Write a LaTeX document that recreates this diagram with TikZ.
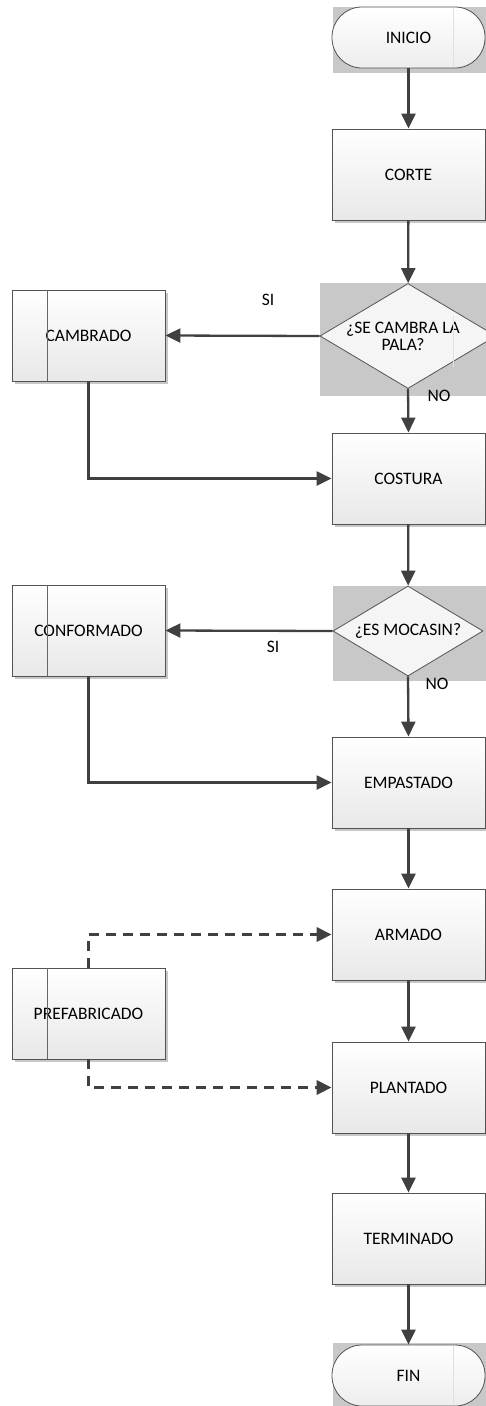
\documentclass[tikz,border=0pt]{standalone}
\usepackage{fontspec}
\setmainfont{Carlito}
\usetikzlibrary{shapes.geometric,arrows.meta,shadows}
\newcommand\lbl{\fontsize{17.5}{19}\selectfont}
\definecolor{edge}{HTML}{404040}
\definecolor{bggray}{HTML}{C8C8C8}
\tikzset{
  boxbase/.style={draw=edge!90, line width=0.8pt, top color=white, bottom color=black!9,
    minimum width=153pt, minimum height=91pt, inner sep=0pt, font=\lbl,
    drop shadow={shadow xshift=3pt, shadow yshift=-3pt, fill=black!22, opacity=1}},
  proc/.style={boxbase},
  subproc/.style={boxbase},
  term/.style={draw=edge!90, line width=0.8pt, top color=white, bottom color=black!7,
    rounded corners=30pt, minimum width=153pt, minimum height=61pt, inner sep=0pt, font=\lbl},
  dec/.style={diamond, draw=edge!90, line width=0.8pt, fill=white!96!black, inner sep=0pt,
    font=\lbl, align=center},
  flow/.style={draw=edge, line width=2.3pt, -{Triangle[length=15pt,width=14pt]}},
  dflow/.style={draw=edge, line width=3.6pt, dash pattern=on 10pt off 7pt,
    -{Triangle[length=15pt,width=14pt]}},
  lab/.style={font=\lbl, inner sep=0pt},
  faint/.style={draw=black!12, line width=0.5pt}
}
\begin{document}
\begin{tikzpicture}[x=1pt,y=-1pt]
\useasboundingbox (0,0) rectangle (486,1406);
% gray backgrounds
\fill[bggray] (333,7) rectangle (486,73);
\fill[bggray] (320,283) rectangle (486,396);
\fill[bggray] (333,586) rectangle (486,681);
\fill[bggray] (333,1343) rectangle (486,1406);

% nodes
\node[term] (inicio) at (408.5,37.5) {INICIO};
\node[proc] (corte) at (408.5,174.5) {CORTE};
\node[dec, aspect=1.68, minimum width=176pt, minimum height=105pt] (d1) at (408,336) {\raisebox{-6pt}{\hspace*{-10pt}\shortstack{¿SE CAMBRA LA\\[-1pt]PALA?}}};
\node[subproc] (cambrado) at (88.5,335.5) {CAMBRADO};
\node[proc] (costura) at (408.5,478.5) {COSTURA};
\node[dec, aspect=1.67, minimum width=150pt, minimum height=90pt] (d2) at (408,631) {¿ES MOCASIN?};
\node[subproc] (conformado) at (88.5,630.5) {CONFORMADO};
\node[proc] (empastado) at (408.5,782.5) {EMPASTADO};
\node[proc] (armado) at (408.5,934.5) {ARMADO};
\node[subproc] (prefab) at (88.5,1013.5) {PREFABRICADO};
\node[proc] (plantado) at (408.5,1087.5) {PLANTADO};
\node[proc] (terminado) at (408.5,1238.5) {TERMINADO};
\node[term] (fin) at (408.5,1375.5) {FIN};

% faint artifacts
\draw[faint] (453,8) -- (453,67);
\draw[faint] (453,1346) -- (453,1405);
\draw[faint] (453,316) -- (453,367);
\foreach \n in {cambrado,conformado,prefab}
  \draw[edge!80, line width=0.6pt] ([xshift=36pt]\n.north west) -- ([xshift=36pt]\n.south west);

% labels
\node[lab] (si1) at (268,300) {SI};
\node[lab] (no1) at (439,396) {NO};
\node[lab] (si2) at (273,647) {SI};
\node[lab] (no2) at (437,684) {NO};

% connectors
\draw[flow] (inicio) -- (corte);
\draw[flow] (corte) -- (d1);
\draw[flow] (d1.west) -- (cambrado.east);
\draw[flow] (d1.south) -- (costura.north);
\draw[flow] (cambrado.south) |- (costura.west);
\draw[flow] (costura) -- (d2);
\draw[flow] (d2.west) -- (conformado.east);
\draw[flow] (d2.south) -- (empastado.north);
\draw[flow] (conformado.south) |- (empastado.west);
\draw[flow] (empastado) -- (armado);
\draw[flow] (armado) -- (plantado);
\draw[flow] (plantado) -- (terminado);
\draw[flow] (terminado) -- (fin);
\draw[dflow] (prefab.north) |- (armado.west);
\draw[dflow] (prefab.south) |- (plantado.west);
\end{tikzpicture}
\end{document}
